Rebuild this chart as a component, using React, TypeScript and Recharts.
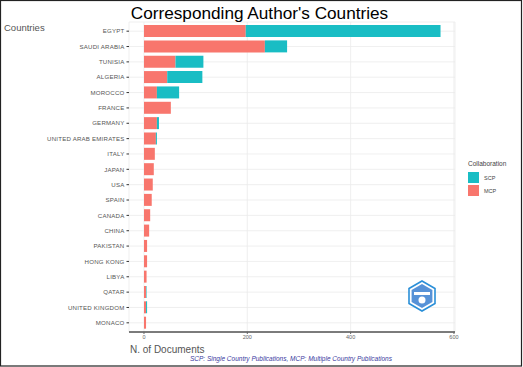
import React from "react";
import { BarChart, Bar, XAxis, YAxis, CartesianGrid } from "recharts";

const countries = ["EGYPT","SAUDI ARABIA","TUNISIA","ALGERIA","MOROCCO","FRANCE","GERMANY","UNITED ARAB EMIRATES","ITALY","JAPAN","USA","SPAIN","CANADA","CHINA","PAKISTAN","HONG KONG","LIBYA","QATAR","UNITED KINGDOM","MONACO"];
const mcp = [197,234,61,45,25,52,25,23,21,19,17,15,12,10,6,6,5,4,4,4];
const scp = [377,43,54,68,43,0,4,2,0,0,0,0,0,0,0,0,0,1,2,0];
const xTicks = [0,200,400,600];

const data = countries.map((c, i) => ({ country: c, MCP: mcp[i], SCP: scp[i] }));

const FONT = "'Liberation Sans', Arial, sans-serif";

const YTick = (props: any) => {
  const { x, y, payload } = props;
  return (
    <text x={x} y={y} dy={2.2} textAnchor="end" fontSize={6.1} letterSpacing={0.22} fill="#555" fontFamily={FONT}>
      {payload.value}
    </text>
  );
};

export default function App() {
  return (
    <div style={{ position: "absolute", left: 0, top: 0, width: 523, height: 367, background: "#fff" }}>
      <BarChart width={523} height={367} data={data} layout="vertical"
        margin={{ top: 22, right: 68, bottom: 0, left: 5 }} barCategoryGap="10%">
        <CartesianGrid stroke="#ebebeb" strokeWidth={0.8} />
        <XAxis type="number" dataKey="MCP" domain={[-29, 602]} ticks={xTicks} allowDataOverflow
          height={35} tickSize={2} tickMargin={1} stroke="#000" axisLine={{ stroke: "#000", strokeWidth: 1 }}
          tickLine={{ stroke: "#666" }}
          tick={{ fontSize: 5.5, fill: "#666", fontFamily: FONT }} />
        <YAxis type="category" dataKey="country" width={124} axisLine={false}
          tickSize={2.5} tickMargin={2} tickLine={{ stroke: "#333" }}
          padding={{ top: 1.5, bottom: 1.5 }} interval={0}
          tick={<YTick />} />
        <Bar dataKey="MCP" stackId="a" fill="#F8766D" isAnimationActive={false} />
        <Bar dataKey="SCP" stackId="a" fill="#19BDC4" isAnimationActive={false} />
      </BarChart>
      <svg width={523} height={367} style={{ position: "absolute", left: 0, top: 0, pointerEvents: "none" }}>
        <rect x={0.5} y={0.5} width={521} height={365.5} fill="none" stroke="#222" strokeWidth={1.2} />
        <text x={259.5} y={19} textAnchor="middle" fontSize={17.2} fontFamily={FONT} fill="#000">Corresponding Author's Countries</text>
        <text x={4} y={31} fontSize={9.5} fontFamily={FONT} fill="#555">Countries</text>
        <text x={130} y={353} fontSize={10} fontFamily={FONT} fill="#555">N. of Documents</text>
        <text x={190} y={361} fontSize={6.5} fontStyle="italic" fontFamily={FONT} fill="#3a3aa0">SCP: Single Country Publications, MCP: Multiple Country Publications</text>
        <text x={468} y={166} fontSize={6.5} fontFamily={FONT} fill="#444">Collaboration</text>
        <rect x={468} y={172} width={11} height={11} fill="#19BDC4" />
        <rect x={468} y={185} width={11} height={11} fill="#F8766D" />
        <text x={484} y={180} fontSize={5.5} fontFamily={FONT} fill="#444">SCP</text>
        <text x={484} y={193} fontSize={5.5} fontFamily={FONT} fill="#444">MCP</text>
        <g transform="translate(422,296)">
          <polygon points="0,-15 13,-7.5 13,7.5 0,15 -13,7.5 -13,-7.5" fill="#fff" stroke="#2a8fd8" strokeWidth={1.6} />
          <polygon points="0,-12 10.4,-6 10.4,6 0,12 -10.4,6 -10.4,-6" fill="#3a7fd0" opacity={0.85} />
          <rect x={-8} y={-4} width={16} height={3} fill="#fff" />
          <circle cx={0} cy={4} r={3.5} fill="#fff" />
        </g>
      </svg>
    </div>
  );
}
